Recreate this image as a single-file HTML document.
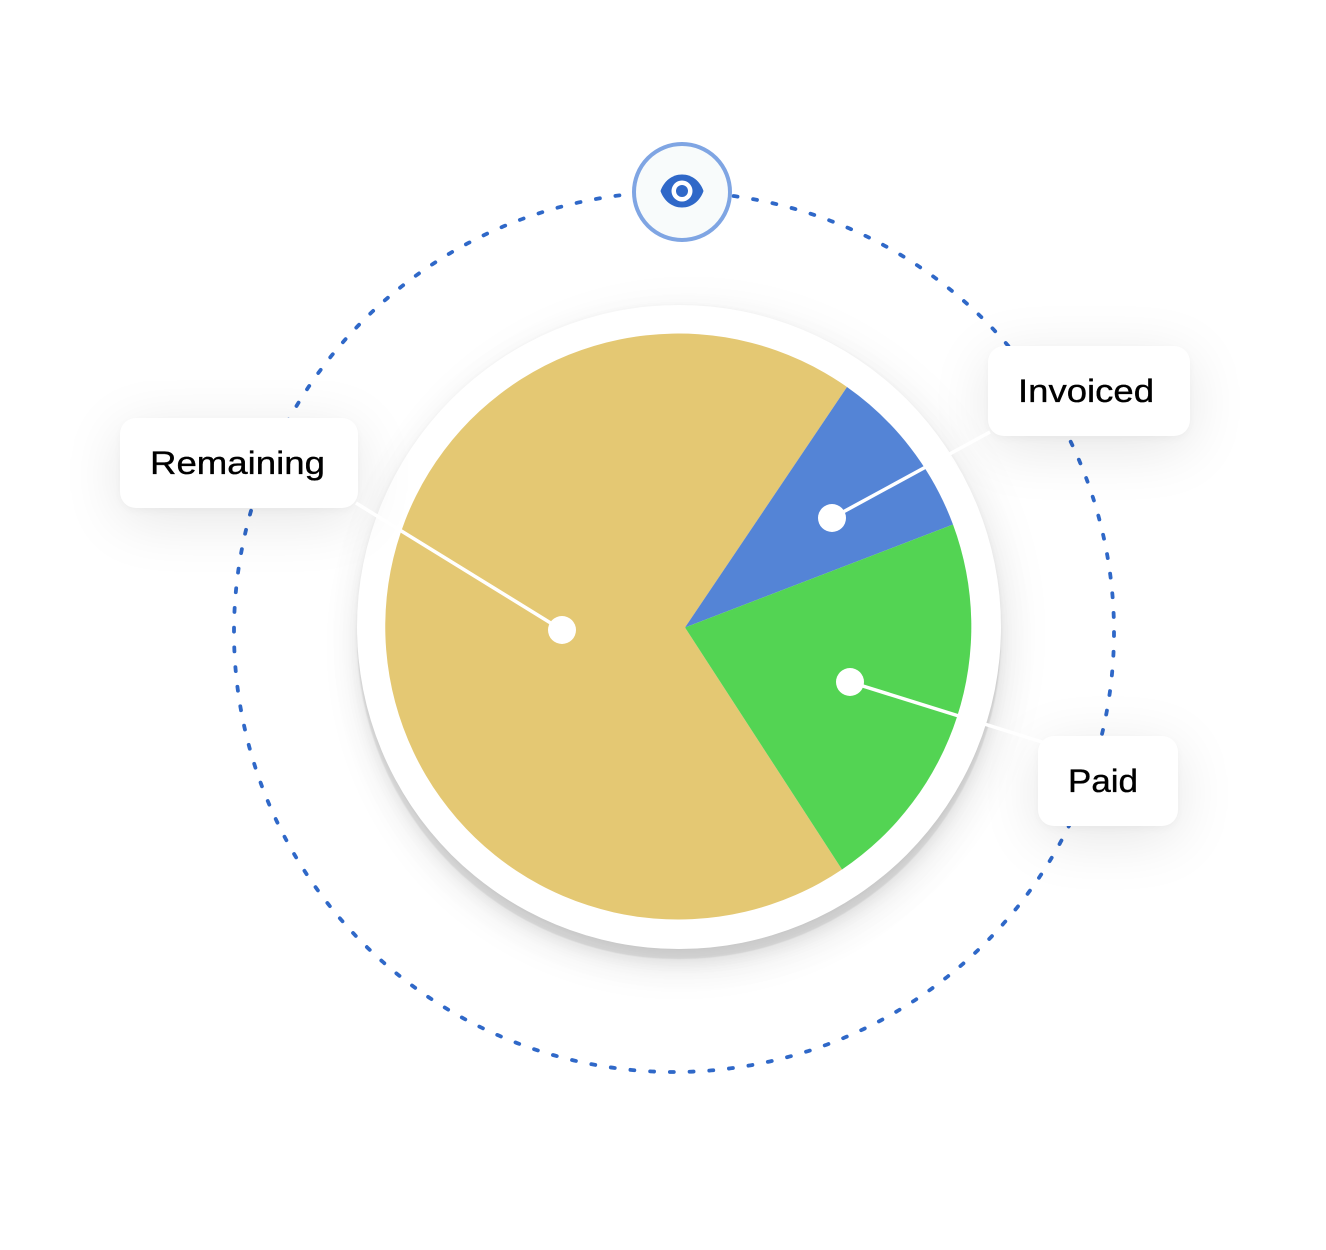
<!DOCTYPE html>
<html>
<head>
<meta charset="utf-8">
<style>
html,body{margin:0;padding:0;background:#fff;}
body{width:1326px;height:1250px;position:relative;overflow:hidden;}
.disc{position:absolute;left:357px;top:305px;width:644px;height:644px;border-radius:50%;background:#fff;
box-shadow:0 0 4px rgba(0,0,0,.04),0 10px 1px rgba(0,0,0,.08),0 15px 14px rgba(0,0,0,.05),0 20px 40px rgba(0,0,0,.07),10px 6px 50px rgba(0,0,0,.05);}
.box{position:absolute;height:90px;border-radius:16px;background:#fff;box-shadow:0 12px 60px rgba(0,0,0,.1),0 3px 8px rgba(0,0,0,.03);}
svg{position:absolute;left:0;top:0;}
text{font-family:"Liberation Sans",sans-serif;font-size:32px;fill:#000;stroke:#000;stroke-width:.35px;}
</style>
</head>
<body>
<svg width="1326" height="1250" viewBox="0 0 1326 1250">
  <circle cx="674" cy="632" r="440" fill="none" stroke="#2f68c8" stroke-width="3.8" stroke-linecap="round" stroke-dasharray="4 15.75"/>
</svg>
<div class="disc"></div>
<div class="box" style="left:120px;top:418px;width:238px;"></div>
<div class="box" style="left:988px;top:346px;width:202px;"></div>
<div class="box" style="left:1038px;top:736px;width:140px;"></div>
<svg width="1326" height="1250" viewBox="0 0 1326 1250">
  <path d="M685 627.500 L847 387 A293 293 0 1 0 842 869.500 Z" fill="#e4c873"/>
  <path d="M685 627.500 L847 387 A293 293 0 0 1 953 524.500 Z" fill="#5484d6"/>
  <path d="M685 627.500 L953 524.500 A293 293 0 0 1 842 869.500 Z" fill="#53d453"/>

  <line x1="356" y1="503" x2="562" y2="630" stroke="#fff" stroke-width="3.500"/>
  <circle cx="562" cy="630" r="14" fill="#fff"/>
  <line x1="990" y1="432" x2="832" y2="518" stroke="#fff" stroke-width="3.500"/>
  <circle cx="832" cy="518" r="14" fill="#fff"/>
  <line x1="1042" y1="742" x2="850" y2="682" stroke="#fff" stroke-width="3.500"/>
  <circle cx="850" cy="682" r="14" fill="#fff"/>

  <circle cx="682" cy="192" r="48" fill="#f8fbfb" stroke="#7fa5e3" stroke-width="4"/>
  <path d="M660.500 191 C664 181 672 174.500 682 174.500 C692 174.500 700 181 703.500 191 C700 201 692 207.500 682 207.500 C672 207.500 664 201 660.500 191 Z" fill="#2f68c8"/>
  <circle cx="682" cy="191" r="10.500" fill="#fff"/>
  <circle cx="682" cy="191" r="6" fill="#2f68c8"/>

  <text x="150" y="474" textLength="175" lengthAdjust="spacingAndGlyphs">Remaining</text>
  <text x="1018" y="402" textLength="136" lengthAdjust="spacingAndGlyphs">Invoiced</text>
  <text x="1068" y="792" textLength="70" lengthAdjust="spacingAndGlyphs">Paid</text>
</svg>
</body>
</html>
